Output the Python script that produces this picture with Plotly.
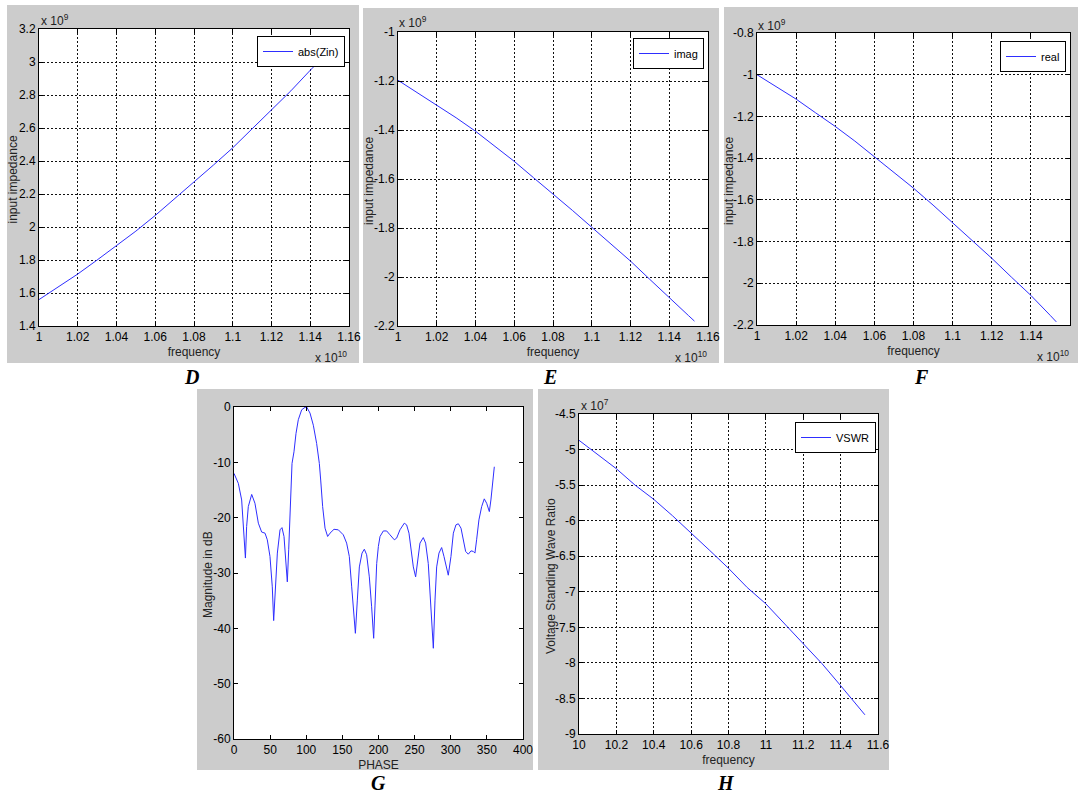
import plotly.graph_objects as go

W, H = 1078, 795

# ---------------- data ----------------
# Panel D: abs(Zin)  (frequency in units of 1e10, impedance in units of 1e9)
freq_D = [1.00, 1.01, 1.02, 1.03, 1.04, 1.05, 1.06, 1.07, 1.08, 1.09, 1.10,
          1.11, 1.12, 1.13, 1.14, 1.15, 1.153]
abs_zin = [1.56, 1.635, 1.715, 1.80, 1.885, 1.975, 2.07, 2.17, 2.27, 2.375,
           2.48, 2.595, 2.705, 2.825, 2.95, 3.07, 3.105]

# Panel E: imag(Zin)
freq_E = [1.00, 1.01, 1.02, 1.03, 1.04, 1.05, 1.06, 1.07, 1.08, 1.09, 1.10,
          1.11, 1.12, 1.13, 1.14, 1.15, 1.153]
imag_zin = [-1.197, -1.247, -1.297, -1.350, -1.405, -1.465, -1.528, -1.595,
            -1.660, -1.728, -1.797, -1.865, -1.935, -2.010, -2.082, -2.158, -2.18]

# Panel F: real(Zin)
freq_F = [1.00, 1.01, 1.02, 1.03, 1.04, 1.05, 1.06, 1.07, 1.08, 1.09, 1.10,
          1.11, 1.12, 1.13, 1.14, 1.15, 1.153]
real_zin = [-1.000, -1.057, -1.117, -1.183, -1.248, -1.318, -1.392, -1.467,
            -1.544, -1.625, -1.709, -1.795, -1.880, -1.970, -2.058, -2.155, -2.185]

# Panel G: radiation pattern, magnitude in dB vs phase (deg)
phase_G = [0, 6, 10.6, 12.9, 14.8, 15.8, 17.5, 19.8, 24.5, 29, 33.7, 38.3, 42.9,
           46.1, 49.8, 53, 54.9, 57.2, 60, 63.7, 66.4, 69.2, 71.5, 73.8, 75.7,
           76.6, 78.4, 80.3, 83, 85.8, 89, 93.7, 98.3, 100.6, 105.2, 109.8,
           114.4, 118.1, 120, 122.7, 126, 129.6, 132.9, 138.4, 144.4, 151.3,
           155.9, 159.6, 162.9, 168, 170.7, 173.5, 177.2, 180.4, 183.6, 187.3,
           190.5, 193.3, 195.2, 197.5, 199.8, 202.1, 206.7, 211.3, 215.9, 221.9,
           225.1, 229.7, 235.7, 238.9, 242.2, 244.9, 248.2, 251.4, 254.2, 257.4,
           262, 265.2, 268.9, 271.7, 273.6, 275.9, 278.2, 280.5, 283.7, 287.4,
           290.6, 296.6, 300.3, 303.6, 307.2, 310.5, 314.2, 317.4, 320.6, 324.3,
           328.0, 331.2, 333.5, 335.8, 339, 342.8, 346.4, 349.7, 353.4, 355.6,
           357.5, 360.3]
mag_G = [-12.0, -13.8, -16.8, -21.6, -27.0, -27.3, -21.6, -18.0, -15.8, -17.4,
         -21.0, -22.6, -22.8, -24.0, -27.0, -32.5, -38.6, -32.5, -26.4, -22.2,
         -21.8, -23.4, -27.0, -31.6, -25.8, -22.8, -16.2, -10.2, -8.1, -4.8,
         -2.3, -0.5, -0.06, 0.0, -1.1, -3.3, -6.6, -10.2, -13.2, -18.0, -21.9,
         -23.4, -22.8, -22.1, -22.2, -23.1, -24.6, -27.0, -32.5, -40.9, -34.9,
         -28.9, -26.4, -25.7, -26.7, -30.7, -36.1, -41.8, -35.8, -28.3, -25.2,
         -23.4, -22.4, -22.4, -23.1, -24.0, -23.7, -22.2, -21.0, -21.3, -22.8,
         -25.2, -28.9, -30.7, -27.7, -24.6, -23.6, -24.6, -28.3, -33.7, -37.9,
         -43.6, -34.9, -28.9, -26.4, -25.4, -27.0, -30.4, -27.0, -22.8, -21.3,
         -21.1, -21.9, -24.0, -26.1, -26.6, -26.0, -26.1, -26.4, -24.0, -20.4,
         -18.0, -16.6, -17.4, -18.9, -16.8, -13.8, -10.8]

# Panel H: VSWR (frequency in GHz, values in units of 1e7)
freq_H = [10.0, 10.1, 10.2, 10.3, 10.4, 10.5, 10.6, 10.7, 10.8, 10.9, 11.0,
          11.1, 11.2, 11.3, 11.4, 11.5, 11.53]
vswr_H = [-4.87, -5.07, -5.27, -5.50, -5.70, -5.93, -6.17, -6.42, -6.67, -6.94,
          -7.17, -7.45, -7.72, -8.01, -8.32, -8.63, -8.73]

# tick labels
ticks_f = [1.00, 1.02, 1.04, 1.06, 1.08, 1.10, 1.12, 1.14, 1.16]
ticklab_f = ["1", "1.02", "1.04", "1.06", "1.08", "1.1", "1.12", "1.14", "1.16"]
ticks_yD = [1.4, 1.6, 1.8, 2.0, 2.2, 2.4, 2.6, 2.8, 3.0, 3.2]
ticklab_yD = ["1.4", "1.6", "1.8", "2", "2.2", "2.4", "2.6", "2.8", "3", "3.2"]
ticks_yE = [-2.2, -2.0, -1.8, -1.6, -1.4, -1.2, -1.0]
ticklab_yE = ["-2.2", "-2", "-1.8", "-1.6", "-1.4", "-1.2", "-1"]
ticks_yF = [-2.2, -2.0, -1.8, -1.6, -1.4, -1.2, -1.0, -0.8]
ticklab_yF = ["-2.2", "-2", "-1.8", "-1.6", "-1.4", "-1.2", "-1", "-0.8"]
ticks_xG = [0, 50, 100, 150, 200, 250, 300, 350, 400]
ticklab_xG = ["0", "50", "100", "150", "200", "250", "300", "350", "400"]
ticks_yG = [-60, -50, -40, -30, -20, -10, 0]
ticklab_yG = ["-60", "-50", "-40", "-30", "-20", "-10", "0"]
ticks_xH = [10.0, 10.2, 10.4, 10.6, 10.8, 11.0, 11.2, 11.4, 11.6]
ticklab_xH = ["10", "10.2", "10.4", "10.6", "10.8", "11", "11.2", "11.4", "11.6"]
ticks_yH = [-9.0, -8.5, -8.0, -7.5, -7.0, -6.5, -6.0, -5.5, -5.0, -4.5]
ticklab_yH = ["-9", "-8.5", "-8", "-7.5", "-7", "-6.5", "-6", "-5.5", "-5", "-4.5"]

# ---------------- layout helpers ----------------
FONT = "Liberation Sans Narrow, Arial Narrow, Liberation Sans, Arial, sans-serif"
BLUE = "#2e2eff"
GRAY = "#cccccc"


def px(x):
    return x / W


def py(y):
    return 1 - y / H


# gray box / plot box (left, top, right, bottom), letter centre, y-title centre x
panels = {
    "D": dict(gray=(7, 5, 359, 363), plot=(39, 29, 349, 326), letter=(191, 377), ytx=12),
    "E": dict(gray=(363, 8, 719, 363), plot=(398, 32, 708, 326), letter=(550, 377), ytx=369),
    "F": dict(gray=(724, 7, 1078, 363), plot=(757, 33, 1070, 325), letter=(921, 377), ytx=729),
    "G": dict(gray=(197, 389, 533, 770), plot=(234, 407, 523, 739), letter=(378, 783), ytx=208),
    "H": dict(gray=(538, 389, 889, 770), plot=(579, 414, 878, 734), letter=(726, 783), ytx=551),
}
ytitles = {"D": "input impedance", "E": "input impedance", "F": "input impedance",
           "G": "Magnitude in dB", "H": "Voltage Standing Wave Ratio"}


def axis(box, horizontal, rng, tv, tt, title="", grid=True):
    l, t, r, b = box
    dom = [px(l), px(r)] if horizontal else [py(b), py(t)]
    return dict(
        domain=dom, range=rng, tickmode="array", tickvals=tv, ticktext=tt,
        showline=True, linecolor="black", linewidth=1, mirror="ticks",
        ticks="inside", ticklen=4, tickcolor="black", tickwidth=1,
        showgrid=grid, gridcolor="#111111", griddash="2px,2px", gridwidth=1,
        zeroline=False, tickangle=0, automargin=False,
        tickfont=dict(family=FONT, size=12, color="black"),
        title=dict(text=title, standoff=4,
                   font=dict(family=FONT, size=12, color="#222222")),
    )


fig = go.Figure()

fig.add_trace(go.Scatter(x=freq_D, y=abs_zin, mode="lines", name="abs(Zin)",
                         line=dict(color=BLUE, width=1), xaxis="x", yaxis="y",
                         legend="legend"))
fig.add_trace(go.Scatter(x=freq_E, y=imag_zin, mode="lines", name="imag",
                         line=dict(color=BLUE, width=1), xaxis="x2", yaxis="y2",
                         legend="legend2"))
fig.add_trace(go.Scatter(x=freq_F, y=real_zin, mode="lines", name="real",
                         line=dict(color=BLUE, width=1), xaxis="x3", yaxis="y3",
                         legend="legend3"))
fig.add_trace(go.Scatter(x=phase_G, y=mag_G, mode="lines", name="pattern",
                         line=dict(color=BLUE, width=1), xaxis="x4", yaxis="y4",
                         showlegend=False))
fig.add_trace(go.Scatter(x=freq_H, y=vswr_H, mode="lines", name="VSWR",
                         line=dict(color=BLUE, width=1), xaxis="x5", yaxis="y5",
                         legend="legend4"))

pD, pE, pF, pG, pH = (panels[k]["plot"] for k in "DEFGH")

layout = dict(
    width=W, height=H, margin=dict(l=0, r=0, t=0, b=0),
    paper_bgcolor="white", plot_bgcolor="white",
    xaxis=axis(pD, True, [1.0, 1.16], ticks_f, ticklab_f, "frequency"),
    yaxis=axis(pD, False, [1.4, 3.2], ticks_yD, ticklab_yD),
    xaxis2=axis(pE, True, [1.0, 1.16], ticks_f, ticklab_f, "frequency"),
    yaxis2=axis(pE, False, [-2.2, -1.0], ticks_yE, ticklab_yE),
    xaxis3=axis(pF, True, [1.0, 1.16], ticks_f, ticklab_f, "frequency"),
    yaxis3=axis(pF, False, [-2.2, -0.8], ticks_yF, ticklab_yF),
    xaxis4=axis(pG, True, [0, 400], ticks_xG, ticklab_xG, "PHASE", grid=False),
    yaxis4=axis(pG, False, [-60, 0], ticks_yG, ticklab_yG, grid=False),
    xaxis5=axis(pH, True, [10.0, 11.6], ticks_xH, ticklab_xH, "frequency"),
    yaxis5=axis(pH, False, [-9.0, -4.5], ticks_yH, ticklab_yH),
)
for i in range(2, 6):
    layout[f"xaxis{i}"]["anchor"] = f"y{i}"
    layout[f"yaxis{i}"]["anchor"] = f"x{i}"
layout["xaxis"]["anchor"] = "y"
layout["yaxis"]["anchor"] = "x"


def legend_at(right, top):
    return dict(x=px(right), y=py(top), xanchor="right", yanchor="top",
                bgcolor="white", bordercolor="black", borderwidth=1,
                font=dict(family=FONT, size=11, color="black"),
                itemwidth=30, tracegroupgap=0)


layout["legend"] = legend_at(345, 36)
layout["legend2"] = legend_at(704, 38)
layout["legend3"] = legend_at(1066, 41)
layout["legend4"] = legend_at(876, 422)

# backgrounds: gray figure panels, then white axes areas
shapes = []
for k in "DEFGH":
    l, t, r, b = panels[k]["gray"]
    shapes.append(dict(type="rect", xref="paper", yref="paper", layer="below",
                       x0=px(l), x1=px(r), y0=py(b), y1=py(t),
                       fillcolor=GRAY, line=dict(width=0)))
for k in "DEFGH":
    l, t, r, b = panels[k]["plot"]
    shapes.append(dict(type="rect", xref="paper", yref="paper", layer="below",
                       x0=px(l), x1=px(r), y0=py(b), y1=py(t),
                       fillcolor="white", line=dict(width=0)))
layout["shapes"] = shapes

annotations = []
for k in "DEFGH":
    lx, ly = panels[k]["letter"]
    annotations.append(dict(text=f"<b><i>{k}</i></b>", x=px(lx), y=py(ly),
                            xref="paper", yref="paper", showarrow=False,
                            xanchor="center", yanchor="middle",
                            font=dict(family="Liberation Serif, Times New Roman, serif",
                                      size=20, color="black")))
    # rotated y-axis title, centred on the axes box
    l, t, r, b = panels[k]["plot"]
    annotations.append(dict(text=ytitles[k], x=px(panels[k]["ytx"]), y=py((t + b) / 2 + 2),
                            xref="paper", yref="paper", showarrow=False, textangle=-90,
                            xanchor="center", yanchor="middle",
                            font=dict(family=FONT, size=12, color="#222222")))

# axis exponent labels
exps = [
    ("x 10<sup>9</sup>", 39, 20, "left"),
    ("x 10<sup>10</sup>", 349, 357, "right"),
    ("x 10<sup>9</sup>", 397, 22, "left"),
    ("x 10<sup>10</sup>", 709, 357, "right"),
    ("x 10<sup>9</sup>", 756, 25, "left"),
    ("x 10<sup>10</sup>", 1071, 356, "right"),
    ("x 10<sup>7</sup>", 579, 405, "left"),
]
for txt, ex, ey, anc in exps:
    annotations.append(dict(text=txt, x=px(ex), y=py(ey), xref="paper", yref="paper",
                            showarrow=False, xanchor=anc, yanchor="middle",
                            font=dict(family=FONT, size=12, color="#222222")))
layout["annotations"] = annotations

fig.update_layout(**layout)
fig.write_html("out.html",
               config={"displayModeBar": False},
               post_script="document.body.style.margin='0px';"
                           "document.body.style.overflow='hidden';")
